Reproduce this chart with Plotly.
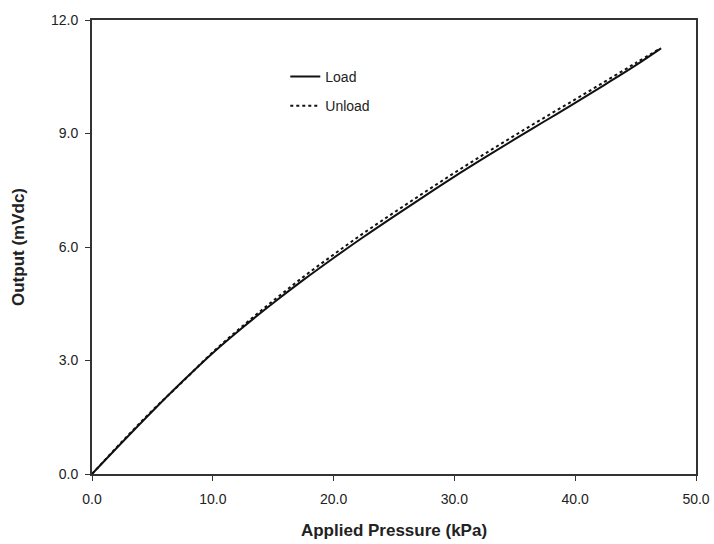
import plotly.graph_objects as go

pressure_load = [0, 2.5, 5, 7.5, 10, 12.5, 15, 17.5, 20, 22.5, 25, 27.5, 30, 32.5, 35, 37.5, 40, 42.5, 45, 47.1]
output_load = [0, 0.84, 1.66, 2.45, 3.20, 3.88, 4.52, 5.13, 5.71, 6.27, 6.81, 7.34, 7.86, 8.36, 8.85, 9.33, 9.81, 10.30, 10.80, 11.25]

pressure_unload = [0, 2.5, 5, 7.5, 10, 12.5, 15, 17.5, 20, 22.5, 25, 27.5, 30, 32.5, 35, 37.5, 40, 42.5, 45, 47.1]
output_unload = [0, 0.86, 1.68, 2.44, 3.22, 3.92, 4.58, 5.21, 5.80, 6.37, 6.91, 7.44, 7.96, 8.46, 8.95, 9.43, 9.90, 10.38, 10.86, 11.26]

x_ticks = [0, 10, 20, 30, 40, 50]
y_ticks = [0, 3, 6, 9, 12]

font_family = "Liberation Sans, Arial, sans-serif"

fig = go.Figure()
fig.add_trace(go.Scatter(x=pressure_load, y=output_load, mode="lines", name="Load",
                         line=dict(color="#111111", width=2), line_shape="spline",
                         legendgroup="a"))
fig.add_trace(go.Scatter(x=pressure_unload, y=output_unload, mode="lines", name="Unload",
                         line=dict(color="#111111", width=2, dash="dot"), line_shape="spline",
                         legendgroup="b"))

fig.update_layout(
    width=714, height=544,
    margin=dict(l=92, r=18, t=20, b=70),
    paper_bgcolor="white", plot_bgcolor="white",
    font=dict(family=font_family, size=14, color="#222222"),
    legend=dict(x=0.32, y=0.91, xanchor="left", yanchor="top",
                bgcolor="rgba(0,0,0,0)", traceorder="grouped", tracegroupgap=8,
                font=dict(size=14)),
    xaxis=dict(range=[0, 50], tickvals=x_ticks, tickformat=".1f", automargin=False,
               showgrid=False, zeroline=False, showline=True, linecolor="#333333",
               linewidth=2, mirror=True, ticks="outside", ticklen=5, tickcolor="#333333",
               ticklabelstandoff=6,
               title=dict(text="<b>Applied Pressure (kPa)</b>", standoff=18)),
    yaxis=dict(range=[0, 12], tickvals=y_ticks, tickformat=".1f", automargin=False,
               showgrid=False, zeroline=False, showline=True, linecolor="#333333",
               linewidth=2, mirror=True, ticks="outside", ticklen=5, tickcolor="#333333",
               ticklabelstandoff=4,
               title=dict(text="<b>Output (mVdc)</b>", standoff=22)),
)

fig.write_html("out.html", config={"displayModeBar": False},
               post_script="document.body.style.margin='0';")
